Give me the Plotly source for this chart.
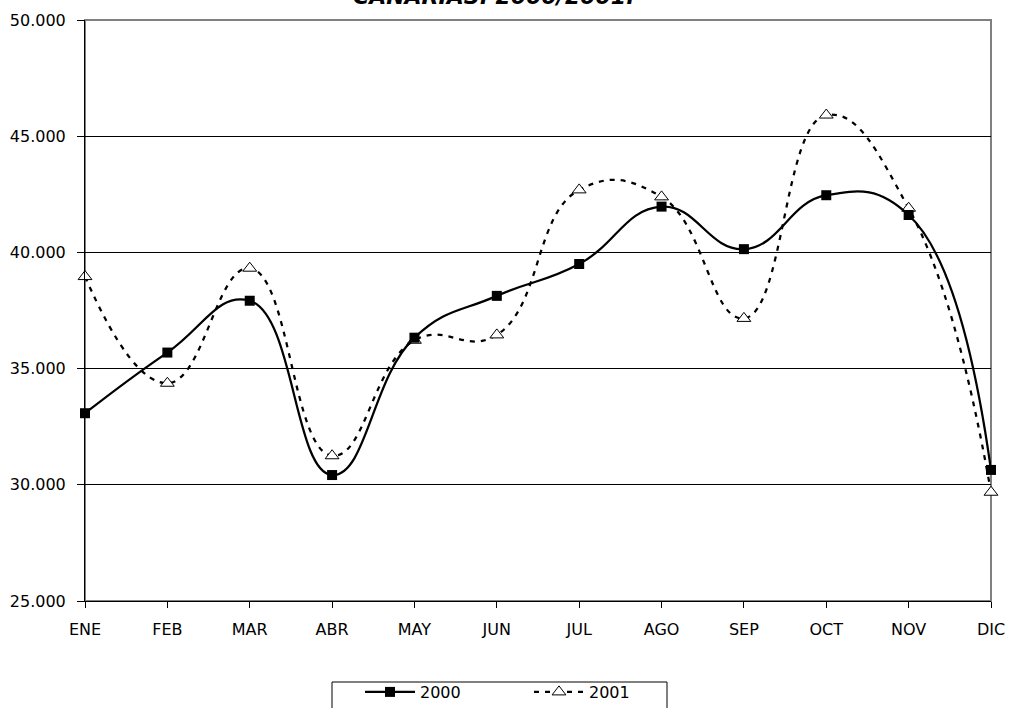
import plotly.graph_objects as go

months = ["ENE", "FEB", "MAR", "ABR", "MAY", "JUN", "JUL", "AGO", "SEP", "OCT", "NOV", "DIC"]
values_2000 = [33080, 35690, 37920, 30420, 36330, 38130, 39500, 41970, 40140, 42460, 41610, 30640]
values_2001 = [38960, 34370, 39320, 31250, 36220, 36450, 42690, 42390, 37160, 45910, 41900, 29680]
title_text = "CANARIAS. 2000/2001."

FONT = "DejaVu Sans"
W, H = 1009, 708
L, R, T, B = 85, 18, 20, 107
PW, PH = W - L - R, H - T - B

def px_x(x):
    return (x - L) / PW

def px_y(y):
    return (H - B - y) / PH

fig = go.Figure()

fig.add_trace(go.Scatter(
    x=months, y=values_2001, name="2001", mode="lines+markers",
    line=dict(color="black", width=2.25, dash="5px,6px", shape="spline", smoothing=1.3),
    marker=dict(symbol="triangle-up", size=12, color="white", line=dict(color="black", width=1)),
    cliponaxis=False, legendrank=2,
))
fig.add_trace(go.Scatter(
    x=months, y=values_2000, name="2000", mode="lines+markers",
    line=dict(color="black", width=2.25, shape="spline", smoothing=1.3),
    marker=dict(symbol="square", size=10, color="black"),
    cliponaxis=False, legendrank=1,
))

fig.update_layout(
    width=W, height=H,
    margin=dict(l=L, r=R, t=T, b=B, autoexpand=False),
    paper_bgcolor="white", plot_bgcolor="white",
    separators=",.",
    font=dict(family=FONT, size=16, color="black"),
    showlegend=True,
    legend=dict(
        orientation="h", xref="container", yref="container",
        x=360 / W, xanchor="left", y=1 - 675 / H, yanchor="top",
        borderwidth=0, bgcolor="rgba(0,0,0,0)",
        font=dict(family=FONT, size=16, color="black"),
        itemwidth=50, entrywidth=104, entrywidthmode="pixels",
    ),
    shapes=[
        dict(type="rect", xref="paper", yref="paper", x0=0, x1=1, y0=0, y1=1,
             line=dict(color="#808080", width=2), layer="below"),
        dict(type="rect", xref="paper", yref="paper",
             x0=px_x(332), x1=px_x(667), y0=px_y(682), y1=px_y(720),
             line=dict(color="black", width=1), fillcolor="white", layer="below"),
    ],
    annotations=[dict(
        text="<b><i>" + title_text + "</i></b>", xref="paper", yref="paper",
        x=px_x(493), y=1 + 9 / PH, xanchor="center", yanchor="bottom", showarrow=False,
        font=dict(family=FONT, size=22, color="black"),
    )],
)

fig.update_xaxes(
    type="category", range=[0, 11], automargin=False,
    showline=True, linecolor="black", linewidth=1,
    ticks="outside", ticklen=6, tickcolor="black",
    showgrid=False, ticklabelstandoff=8,
    tickfont=dict(family=FONT, size=16, color="black"),
)
fig.update_yaxes(
    range=[25000, 50000], dtick=5000, tickformat=",d", automargin=False,
    showline=True, linecolor="black", linewidth=1,
    ticks="outside", ticklen=7, tickcolor="black",
    showgrid=True, gridcolor="black", gridwidth=1, zeroline=False,
    ticklabelstandoff=8,
    tickfont=dict(family=FONT, size=16, color="black"),
)

fig.write_html(
    "out.html",
    config={"displayModeBar": False},
    post_script="document.body.style.margin='0';document.body.style.overflow='hidden';",
)
